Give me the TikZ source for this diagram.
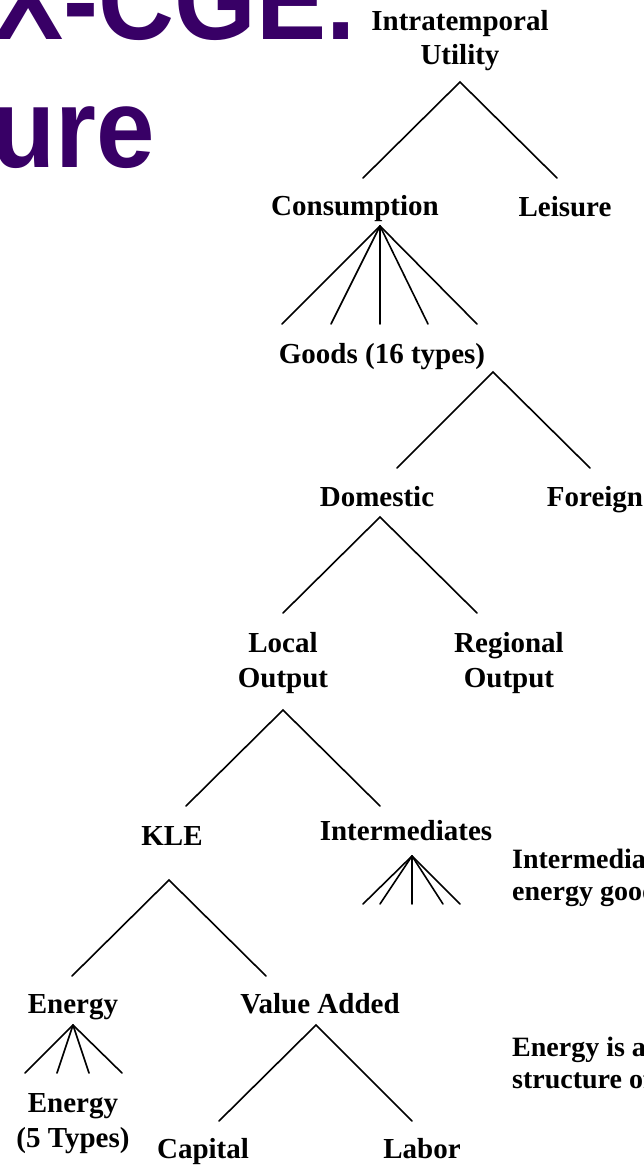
\documentclass[tikz,border=0pt]{standalone}
\usepackage{fontspec}
\usepackage{graphicx}
\setmainfont{Liberation Serif}
\newfontfamily\titlefont{Liberation Sans}
\definecolor{titlepurple}{HTML}{380066}
\begin{document}
\begin{tikzpicture}[x=1pt,y=-1pt,
  lbl/.style={font=\fontsize{29}{34.5}\selectfont\bfseries, inner sep=0pt, anchor=base, align=center},
  note/.style={font=\fontsize{28}{32}\selectfont\bfseries, inner sep=0pt, anchor=base west, align=left},
  branch/.style={line width=1.6pt, line cap=round},
  ttl/.style={font=\fontsize{113}{128}\selectfont\titlefont\bfseries, text=titlepurple, inner sep=0pt, anchor=base west}]
\useasboundingbox (0,0) rectangle (644,1166);
\begin{scope}
\clip (0,0) rectangle (644,1166);
% title fragments
\node[ttl, anchor=base east] (t1) at (356,40) {\scalebox{0.93}[1]{X-CGE.}};
\node[ttl] (t2) at (-9,168) {\scalebox{0.93}[1]{ure}};
% labels (base = baseline of the last line)
\node[lbl] (util) at (460,65) {Intratemporal\\Utility};
\node[lbl] (cons) at (355,216) {Consumption};
\node[lbl] (leis) at (565,217) {Leisure};
\node[lbl] (goods) at (382,363) {Goods (16 types)};
\node[lbl] (dom) at (377,506) {Domestic};
\node[lbl] (for) at (595,506) {Foreign};
\node[lbl] (loc) at (283,687) {Local\\Output};
\node[lbl] (reg) at (509,687) {Regional\\Output};
\node[lbl] (kle) at (172,845) {KLE};
\node[lbl] (int) at (406,840) {Intermediates};
\node[lbl] (en) at (73,1013) {Energy};
\node[lbl] (va) at (320,1013) {Value Added};
\node[lbl] (en5) at (73,1147) {Energy\\(5 Types)};
\node[lbl] (cap) at (203,1158) {Capital};
\node[lbl] (lab) at (422,1158) {Labor};
\node[note] (n1) at (512,900) {Intermediates\\energy goods};
\node[note] (n2) at (512,1088) {Energy is a\\structure of};
% apex and end coordinates
\coordinate (a1) at (460,82);
\coordinate (e1a) at (363,178); \coordinate (e1b) at (557,178);
\coordinate (a2) at (380,226);
\foreach \x [count=\i] in {282,331,380,428,477} {\coordinate (e2\i) at (\x,324);}
\coordinate (a3) at (493,372);
\coordinate (e3a) at (397,468); \coordinate (e3b) at (590,468);
\coordinate (a4) at (380,517);
\coordinate (e4a) at (283,613); \coordinate (e4b) at (477,613);
\coordinate (a5) at (283,710);
\coordinate (e5a) at (186,806); \coordinate (e5b) at (380,806);
\coordinate (a6) at (412,856);
\foreach \x [count=\i] in {363,380,412,443,460} {\coordinate (e6\i) at (\x,904);}
\coordinate (a7) at (169,880);
\coordinate (e7a) at (72,976); \coordinate (e7b) at (266,976);
\coordinate (a8) at (73,1025);
\foreach \x [count=\i] in {25,57,89,122} {\coordinate (e8\i) at (\x,1073);}
\coordinate (a9) at (316,1025);
\coordinate (e9a) at (219,1121); \coordinate (e9b) at (412,1121);
% branches
\draw[branch] (e1a) -- (a1) -- (e1b);
\foreach \i in {1,...,5} {\draw[branch] (a2) -- (e2\i);}
\draw[branch] (e3a) -- (a3) -- (e3b);
\draw[branch] (e4a) -- (a4) -- (e4b);
\draw[branch] (e5a) -- (a5) -- (e5b);
\foreach \i in {1,...,5} {\draw[branch] (a6) -- (e6\i);}
\draw[branch] (e7a) -- (a7) -- (e7b);
\foreach \i in {1,...,4} {\draw[branch] (a8) -- (e8\i);}
\draw[branch] (e9a) -- (a9) -- (e9b);
\end{scope}
\end{tikzpicture}
\end{document}
